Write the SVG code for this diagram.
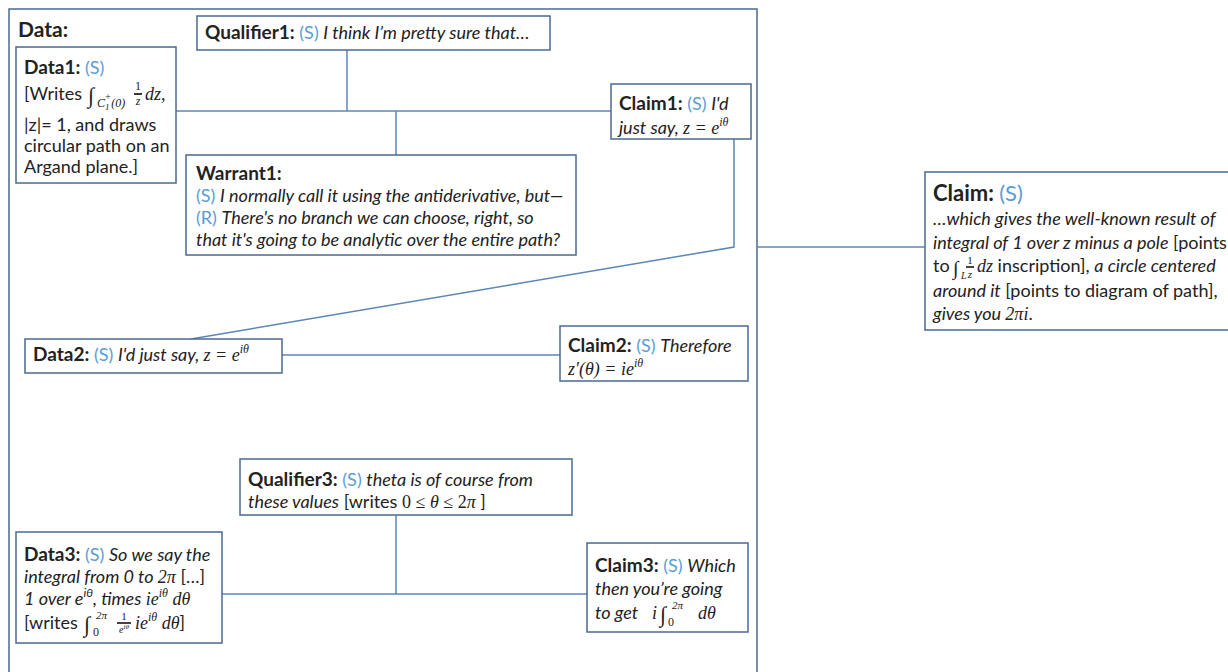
<svg xmlns="http://www.w3.org/2000/svg" width="1228" height="672" viewBox="0 0 1228 672">
<style>
.frame{fill:none;stroke:#4a6a90;stroke-width:1.5}
.box{fill:#fff;stroke:#4a6a90;stroke-width:1.5}
.ln{stroke:#5b86b8;stroke-width:1.5;fill:none}
text{font-family:Lato,"Open Sans","Liberation Sans",sans-serif;font-size:18px;fill:#222}
.b{font-weight:bold;font-size:19px}
.i{font-style:italic}
.s{fill:#5b9bd5;font-style:normal}
.m{font-family:"Liberation Serif",serif;font-style:italic;font-size:18px}
.sm{font-size:12px}
.int{font-family:"Liberation Serif",serif;font-size:22px}
</style>
<rect class="frame" x="9" y="9" width="748" height="690"/>
<text x="18" y="37" class="b" style="font-size:21px">Data:</text>
<g id="connectors">
<line class="ln" x1="347" y1="50" x2="347" y2="111"/>
<line class="ln" x1="176" y1="111" x2="611" y2="111"/>
<line class="ln" x1="396" y1="111" x2="396" y2="155"/>
<polyline class="ln" points="734,139 734,247 191,339"/>
<line class="ln" x1="757" y1="247" x2="925" y2="247"/>
<line class="ln" x1="282" y1="355" x2="560" y2="355"/>
<line class="ln" x1="396" y1="515" x2="396" y2="594"/>
<line class="ln" x1="222" y1="594" x2="587" y2="594"/>
</g>
<g id="data1">
<rect class="box" x="16" y="47" width="160" height="136"/>
<text x="24" y="74"><tspan class="b">Data1: </tspan><tspan class="s">(S)</tspan></text>
<text x="24" y="100">[Writes</text>
<text x="88" y="103" class="int">∫</text>
<text x="97" y="107" class="m sm">C<tspan dy="3" font-size="9">1</tspan><tspan dx="-5" dy="-10" font-size="10">+</tspan><tspan dy="7">(0)</tspan></text>
<text x="138" y="90" class="m" text-anchor="middle" style="font-size:12px;font-style:normal">1</text>
<line x1="134" y1="94" x2="142" y2="94" stroke="#222" stroke-width="1.8"/>
<text x="138" y="105" class="m" text-anchor="middle" style="font-size:12px">z</text>
<text x="145" y="100" class="m">dz,</text>
<text x="24" y="131">|z|= 1, and draws</text>
<text x="24" y="152">circular path on an</text>
<text x="24" y="173">Argand plane.]</text>
</g>
<g id="qualifier1">
<rect class="box" x="197" y="16" width="353" height="34"/>
<text x="205" y="39"><tspan class="b">Qualifier1: </tspan><tspan class="s">(S) </tspan><tspan class="i">I think I’m pretty sure that…</tspan></text>
</g>
<g id="claim1">
<rect class="box" x="611" y="84" width="140" height="55"/>
<text x="619" y="110"><tspan class="b">Claim1: </tspan><tspan class="s">(S) </tspan><tspan class="i">I'd</tspan></text>
<text x="619" y="134"><tspan class="i">just say, </tspan><tspan class="m">z = e</tspan><tspan class="m sm" dy="-8">iθ</tspan></text>
</g>
<g id="warrant1">
<rect class="box" x="186" y="155" width="390" height="100"/>
<text x="196" y="180" class="b">Warrant1:</text>
<text x="196" y="202"><tspan class="s">(S) </tspan><tspan class="i">I normally call it using the antiderivative, but—</tspan></text>
<text x="196" y="224"><tspan class="s">(R) </tspan><tspan class="i">There's no branch we can choose, right, so</tspan></text>
<text x="196" y="246" class="i">that it's going to be analytic over the entire path?</text>
</g>
<g id="claim">
<rect class="box" x="925" y="172" width="310" height="158"/>
<text x="933" y="201"><tspan class="b" style="font-size:22px">Claim: </tspan><tspan class="s" style="font-size:22px">(S)</tspan></text>
<text x="933" y="225" class="i">…which gives the well-known  result of</text>
<text x="933" y="249"><tspan class="i">integral of 1 over z minus a pole</tspan> [points</text>
<text x="933" y="272">to </text>
<text x="953" y="275" class="int" style="font-size:20px">∫</text>
<text x="961" y="279" class="m" style="font-size:10px">L</text>
<text x="970" y="264" class="m" text-anchor="middle" style="font-size:11px;font-style:normal">1</text>
<line x1="966" y1="267" x2="974" y2="267" stroke="#222" stroke-width="1.7"/>
<text x="970" y="278" class="m" text-anchor="middle" style="font-size:11px">z</text>
<text x="977" y="272"><tspan class="m">dz</tspan> inscription], <tspan class="i">a circle centered</tspan></text>
<text x="933" y="297"><tspan class="i">around it</tspan> [points to diagram of path],</text>
<text x="933" y="320"><tspan class="i">gives you </tspan><tspan class="m">2πi</tspan>.</text>
</g>
<g id="data2">
<rect class="box" x="25" y="339" width="257" height="34"/>
<text x="33" y="361"><tspan class="b">Data2: </tspan><tspan class="s">(S) </tspan><tspan class="i">I'd just say, </tspan><tspan class="m">z = e</tspan><tspan class="m sm" dy="-8">iθ</tspan></text>
</g>
<g id="claim2">
<rect class="box" x="560" y="326" width="188" height="55"/>
<text x="568" y="352"><tspan class="b">Claim2: </tspan><tspan class="s">(S) </tspan><tspan class="i">Therefore</tspan></text>
<text x="568" y="375"><tspan class="m">z′(θ) = ie</tspan><tspan class="m sm" dy="-8">iθ</tspan></text>
</g>
<g id="qualifier3">
<rect class="box" x="240" y="459" width="332" height="56"/>
<text x="248" y="486"><tspan class="b">Qualifier3: </tspan><tspan class="s">(S) </tspan><tspan class="i"> theta is of course from</tspan></text>
<text x="248" y="508"><tspan class="i">these values</tspan> [writes <tspan class="m" style="font-style:normal">0 ≤ </tspan><tspan class="m">θ</tspan><tspan class="m" style="font-style:normal"> ≤  2</tspan><tspan class="m">π</tspan> ]</text>
</g>
<g id="data3">
<rect class="box" x="16" y="532" width="206" height="111"/>
<text x="24" y="561"><tspan class="b">Data3: </tspan><tspan class="s">(S) </tspan><tspan class="i">So we say the</tspan></text>
<text x="24" y="583"><tspan class="i">integral from 0 to </tspan><tspan class="m">2π</tspan> […]</text>
<text x="24" y="605"><tspan class="i">1 over e</tspan><tspan class="i sm" dy="-8">iθ</tspan><tspan class="i" dy="8">, times </tspan><tspan class="m">ie</tspan><tspan class="m sm" dy="-8">iθ</tspan><tspan class="m" dy="8"> dθ</tspan></text>
<text x="24" y="629">[writes </text>
<text x="84" y="632" class="int">∫</text>
<text x="93" y="636" class="m sm" style="font-style:normal">0</text>
<text x="96" y="619" class="m" style="font-size:11px">2π</text>
<text x="124" y="620" class="m" text-anchor="middle" style="font-size:11px;font-style:normal">1</text>
<line x1="117" y1="623" x2="131" y2="623" stroke="#222" stroke-width="1.7"/>
<text x="124" y="633" class="m" text-anchor="middle" style="font-size:10px">e<tspan dy="-4" font-size="7">iθ</tspan></text>
<text x="135" y="629"><tspan class="m">ie</tspan><tspan class="m sm" dy="-8">iθ</tspan><tspan class="m" dy="8"> dθ</tspan>]</text>
</g>
<g id="claim3">
<rect class="box" x="587" y="543" width="161" height="89"/>
<text x="595" y="572"><tspan class="b">Claim3: </tspan><tspan class="s">(S) </tspan><tspan class="i">Which</tspan></text>
<text x="595" y="595" class="i">then you’re going</text>
<text x="595" y="619" class="i">to get</text>
<text x="652" y="619" class="m">i</text>
<text x="660" y="622" class="int">∫</text>
<text x="668" y="626" class="m sm" style="font-style:normal">0</text>
<text x="672" y="609" class="m" style="font-size:11px">2π</text>
<text x="698" y="619" class="m">dθ</text>
</g>
</svg>
